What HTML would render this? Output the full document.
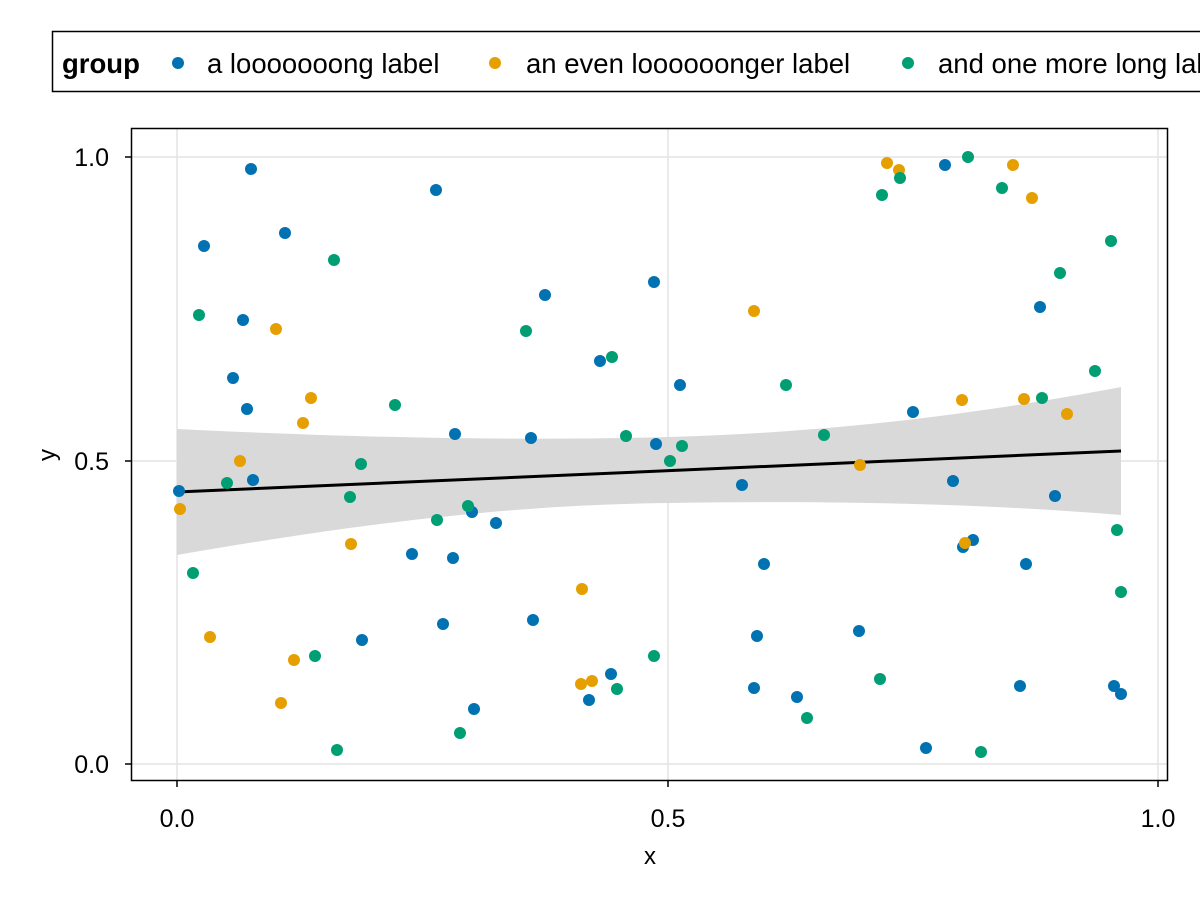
<!DOCTYPE html>
<html><head><meta charset="utf-8"><style>
html,body{margin:0;padding:0;background:#fff;width:1200px;height:900px;overflow:hidden}
svg{display:block}
text{font-family:"Liberation Sans",sans-serif;fill:#000}
</style></head><body>
<svg width="1200" height="900" viewBox="0 0 1200 900">
<rect width="1200" height="900" fill="#fff"/>
<!-- legend -->
<rect x="52.5" y="31.5" width="1160" height="60" fill="none" stroke="#000" stroke-width="1.5"/>
<text x="62" y="73" font-size="27.5" font-weight="bold">group</text>
<circle cx="178" cy="63" r="6" fill="#0072b2"/>
<text x="207" y="73" font-size="27.5">a looooooong label</text>
<circle cx="495" cy="63" r="6" fill="#e69f00"/>
<text x="526" y="73" font-size="27.5">an even loooooonger label</text>
<circle cx="908" cy="63" r="6" fill="#009e73"/>
<text x="938" y="73" font-size="27.5">and one more long label</text>
<!-- grid -->
<g stroke="#e3e3e3" stroke-width="1.5">
<line x1="177" y1="128" x2="177" y2="781"/><line x1="668" y1="128" x2="668" y2="781"/><line x1="1158" y1="128" x2="1158" y2="781"/>
<line x1="131" y1="157" x2="1168" y2="157"/><line x1="131" y1="461" x2="1168" y2="461"/><line x1="131" y1="764" x2="1168" y2="764"/>
</g>
<!-- band -->
<path d="M177,429 C400,440 560,440 668,437 C850,432 1000,410 1121,387 L1121,515 C1000,505 850,500 668,503 C520,505 380,520 177,555 Z" fill="#d9d9d9"/>
<line x1="177" y1="492" x2="1121" y2="451" stroke="#000" stroke-width="3"/>
<g fill="#0072b2">
<circle cx="179" cy="491" r="6"/><circle cx="251" cy="169" r="6"/><circle cx="204" cy="246" r="6"/><circle cx="285" cy="233" r="6"/><circle cx="436" cy="190" r="6"/><circle cx="243" cy="320" r="6"/><circle cx="233" cy="378" r="6"/><circle cx="247" cy="409" r="6"/><circle cx="253" cy="480" r="6"/><circle cx="455" cy="434" r="6"/><circle cx="531" cy="438" r="6"/><circle cx="545" cy="295" r="6"/><circle cx="654" cy="282" r="6"/><circle cx="600" cy="361" r="6"/><circle cx="680" cy="385" r="6"/><circle cx="656" cy="444" r="6"/><circle cx="412" cy="554" r="6"/><circle cx="453" cy="558" r="6"/><circle cx="472" cy="512" r="6"/><circle cx="496" cy="523" r="6"/><circle cx="362" cy="640" r="6"/><circle cx="443" cy="624" r="6"/><circle cx="533" cy="620" r="6"/><circle cx="474" cy="709" r="6"/><circle cx="611" cy="674" r="6"/><circle cx="589" cy="700" r="6"/><circle cx="742" cy="485" r="6"/><circle cx="764" cy="564" r="6"/><circle cx="757" cy="636" r="6"/><circle cx="754" cy="688" r="6"/><circle cx="797" cy="697" r="6"/><circle cx="859" cy="631" r="6"/><circle cx="913" cy="412" r="6"/><circle cx="945" cy="165" r="6"/><circle cx="953" cy="481" r="6"/><circle cx="963" cy="547" r="6"/><circle cx="973" cy="540" r="6"/><circle cx="1040" cy="307" r="6"/><circle cx="1055" cy="496" r="6"/><circle cx="1026" cy="564" r="6"/><circle cx="1020" cy="686" r="6"/><circle cx="1114" cy="686" r="6"/><circle cx="1121" cy="694" r="6"/><circle cx="926" cy="748" r="6"/>
</g>
<g fill="#e69f00">
<circle cx="180" cy="509" r="6"/><circle cx="276" cy="329" r="6"/><circle cx="311" cy="398" r="6"/><circle cx="303" cy="423" r="6"/><circle cx="240" cy="461" r="6"/><circle cx="351" cy="544" r="6"/><circle cx="210" cy="637" r="6"/><circle cx="294" cy="660" r="6"/><circle cx="281" cy="703" r="6"/><circle cx="582" cy="589" r="6"/><circle cx="581" cy="684" r="6"/><circle cx="592" cy="681" r="6"/><circle cx="754" cy="311" r="6"/><circle cx="887" cy="163" r="6"/><circle cx="899" cy="170" r="6"/><circle cx="1013" cy="165" r="6"/><circle cx="1032" cy="198" r="6"/><circle cx="962" cy="400" r="6"/><circle cx="1024" cy="399" r="6"/><circle cx="1067" cy="414" r="6"/><circle cx="860" cy="465" r="6"/><circle cx="965" cy="543" r="6"/>
</g>
<g fill="#009e73">
<circle cx="199" cy="315" r="6"/><circle cx="334" cy="260" r="6"/><circle cx="227" cy="483" r="6"/><circle cx="193" cy="573" r="6"/><circle cx="361" cy="464" r="6"/><circle cx="395" cy="405" r="6"/><circle cx="350" cy="497" r="6"/><circle cx="437" cy="520" r="6"/><circle cx="468" cy="506" r="6"/><circle cx="315" cy="656" r="6"/><circle cx="337" cy="750" r="6"/><circle cx="460" cy="733" r="6"/><circle cx="526" cy="331" r="6"/><circle cx="612" cy="357" r="6"/><circle cx="626" cy="436" r="6"/><circle cx="670" cy="461" r="6"/><circle cx="682" cy="446" r="6"/><circle cx="654" cy="656" r="6"/><circle cx="617" cy="689" r="6"/><circle cx="786" cy="385" r="6"/><circle cx="824" cy="435" r="6"/><circle cx="807" cy="718" r="6"/><circle cx="880" cy="679" r="6"/><circle cx="882" cy="195" r="6"/><circle cx="900" cy="178" r="6"/><circle cx="968" cy="157" r="6"/><circle cx="1002" cy="188" r="6"/><circle cx="1111" cy="241" r="6"/><circle cx="1060" cy="273" r="6"/><circle cx="1095" cy="371" r="6"/><circle cx="1042" cy="398" r="6"/><circle cx="1117" cy="530" r="6"/><circle cx="1121" cy="592" r="6"/><circle cx="981" cy="752" r="6"/>
</g>
<!-- frame -->
<rect x="131.5" y="128.5" width="1036" height="652" fill="none" stroke="#000" stroke-width="1.5"/>
<g stroke="#000" stroke-width="1.5">
<line x1="177" y1="781" x2="177" y2="787"/><line x1="668" y1="781" x2="668" y2="787"/><line x1="1158" y1="781" x2="1158" y2="787"/>
<line x1="125" y1="157" x2="131" y2="157"/><line x1="125" y1="461" x2="131" y2="461"/><line x1="125" y1="764" x2="131" y2="764"/>
</g>
<g font-size="25">
<text x="177" y="827" text-anchor="middle">0.0</text>
<text x="668" y="827" text-anchor="middle">0.5</text>
<text x="1158" y="827" text-anchor="middle">1.0</text>
<text x="109" y="166" text-anchor="end">1.0</text>
<text x="109" y="470" text-anchor="end">0.5</text>
<text x="109" y="773" text-anchor="end">0.0</text>
</g>
<g font-size="24">
<text x="650" y="864" text-anchor="middle">x</text>
<text transform="translate(55,455) rotate(-90)" text-anchor="middle">y</text>
</g>
</svg>
</body></html>
